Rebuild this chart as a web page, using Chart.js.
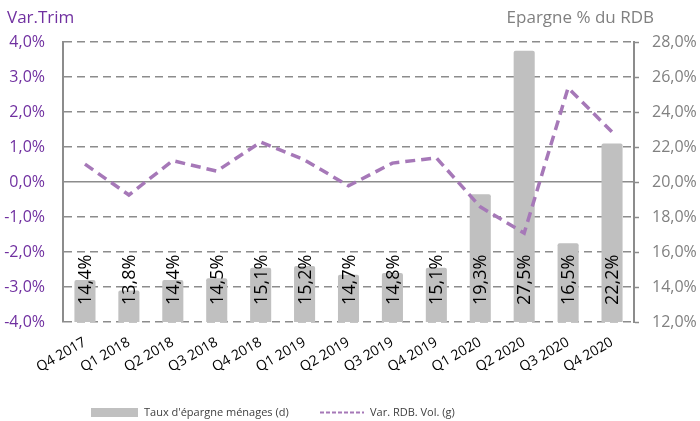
<!DOCTYPE html>
<html>
<head>
<meta charset="utf-8">
<script src="https://cdn.jsdelivr.net/npm/chart.js@4.4.0/dist/chart.umd.min.js"></script>
<style>
  body { margin: 0; background: #fff; }
  #wrap { width: 700px; height: 421px; }
</style>
</head>
<body>
<div id="wrap"><canvas id="epargne" width="700" height="421"></canvas></div>
<script>
const quarters = ["Q4 2017", "Q1 2018", "Q2 2018", "Q3 2018", "Q4 2018", "Q1 2019", "Q2 2019",
  "Q3 2019", "Q4 2019", "Q1 2020", "Q2 2020", "Q3 2020", "Q4 2020"];
// taux d'epargne (axe droit, %)
const savingsRate = [14.4, 13.8, 14.4, 14.5, 15.1, 15.2, 14.7, 14.8, 15.1, 19.3, 27.5, 16.5, 22.2];
// variation trimestrielle du RDB en volume (axe gauche, %)
const rdbVar = [0.51, -0.37, 0.61, 0.31, 1.14, 0.63, -0.11, 0.54, 0.69, -0.71, -1.46, 2.69, 1.43];

const purple = "#7030A0";
const lineColor = "#A678B8";
const greyTxt = "#808080";
const gridGrey = "#8C8C8C";

const fmt = v => v.toFixed(1).replace(".", ",") + "%";

// etiquettes verticales dans les barres + titres + legende
const extras = {
  id: "extras",
  afterDatasetsDraw(chart) {
    const ctx = chart.ctx;
    const meta = chart.getDatasetMeta(0);
    const bottom = chart.chartArea.bottom;
    ctx.save();
    ctx.font = "18px 'Open Sans'";
    ctx.fillStyle = "#000";
    ctx.textAlign = "left";
    ctx.textBaseline = "middle";
    meta.data.forEach((bar, i) => {
      ctx.save();
      ctx.translate(bar.x, bottom - 17);
      ctx.rotate(-Math.PI / 2);
      ctx.fillText(fmt(savingsRate[i]), 0, 1);
      ctx.restore();
    });
    ctx.restore();
  },
  afterDraw(chart) {
    const ctx = chart.ctx;
    ctx.save();
    ctx.font = "17px 'Open Sans'";
    ctx.textBaseline = "alphabetic";
    ctx.fillStyle = purple;
    ctx.textAlign = "left";
    ctx.fillText("Var.Trim", 7, 23);
    ctx.fillStyle = greyTxt;
    ctx.textAlign = "right";
    ctx.fillText("Epargne % du RDB", 654, 23);

    // legende
    ctx.fillStyle = "#C0C0C0";
    ctx.fillRect(91, 408, 47, 9);
    ctx.strokeStyle = lineColor;
    ctx.lineWidth = 2;
    ctx.setLineDash([4, 2]);
    ctx.beginPath();
    ctx.moveTo(320, 412.5);
    ctx.lineTo(364, 412.5);
    ctx.stroke();
    ctx.setLineDash([]);
    ctx.font = "11px 'Liberation Sans Narrow', 'Open Sans'";
    ctx.fillStyle = "#404040";
    ctx.textAlign = "left";
    ctx.textBaseline = "middle";
    ctx.fillText("Taux d'épargne ménages (d)", 144, 413);
    ctx.fillText("Var. RDB. Vol. (g)", 370, 413);
    ctx.restore();
  }
};

const ctx = document.getElementById("epargne").getContext("2d");
const chart = new Chart(ctx, {
  type: "bar",
  data: {
    labels: quarters,
    datasets: [
      {
        label: "Taux d'épargne ménages (d)",
        data: savingsRate,
        yAxisID: "y2",
        backgroundColor: "#C0C0C0",
        borderRadius: 2,
        borderSkipped: "bottom",
        barPercentage: 0.48,
        categoryPercentage: 1,
        order: 2
      },
      {
        type: "line",
        label: "Var. RDB. Vol. (g)",
        data: rdbVar,
        yAxisID: "y",
        borderColor: lineColor,
        borderWidth: 3.5,
        borderDash: [10, 6],
        pointRadius: 0,
        tension: 0,
        fill: false,
        order: 1
      }
    ]
  },
  options: {
    responsive: false,
    animation: false,
    layout: { padding: { top: 42, bottom: 38, left: 0, right: 0 } },
    plugins: {
      legend: { display: false },
      tooltip: { enabled: false }
    },
    scales: {
      x: {
        offset: true,
        grid: { display: false },
        border: { display: false },
        ticks: {
          color: "#000",
          font: { family: "'Open Sans'", size: 14 },
          minRotation: 30,
          maxRotation: 30,
          padding: 4
        },
        afterFit: s => { s.height = 61; }
      },
      y: {
        position: "left",
        min: -4,
        max: 4,
        ticks: {
          stepSize: 1,
          color: purple,
          font: { family: "'Open Sans'", size: 16 },
          padding: 18,
          callback: v => fmt(v)
        },
        grid: {
          color: gridGrey,
          lineWidth: 1.5,
          drawTicks: false
        },
        border: {
          display: true,
          color: gridGrey,
          width: 2,
          dash: c => (c.tick && c.tick.value === 0 ? [] : [8, 5])
        },
        afterFit: s => { s.width = 63; }
      },
      y2: {
        position: "right",
        min: 12,
        max: 28,
        ticks: {
          stepSize: 2,
          color: greyTxt,
          font: { family: "'Open Sans'", size: 16 },
          padding: 13,
          callback: v => fmt(v)
        },
        grid: {
          drawOnChartArea: false,
          drawTicks: true,
          tickLength: 5,
          tickColor: gridGrey,
          tickWidth: 1.5
        },
        border: { display: true, color: gridGrey, width: 2 },
        afterFit: s => { s.width = 66; }
      }
    }
  },
  plugins: [extras]
});
</script>
</body>
</html>
